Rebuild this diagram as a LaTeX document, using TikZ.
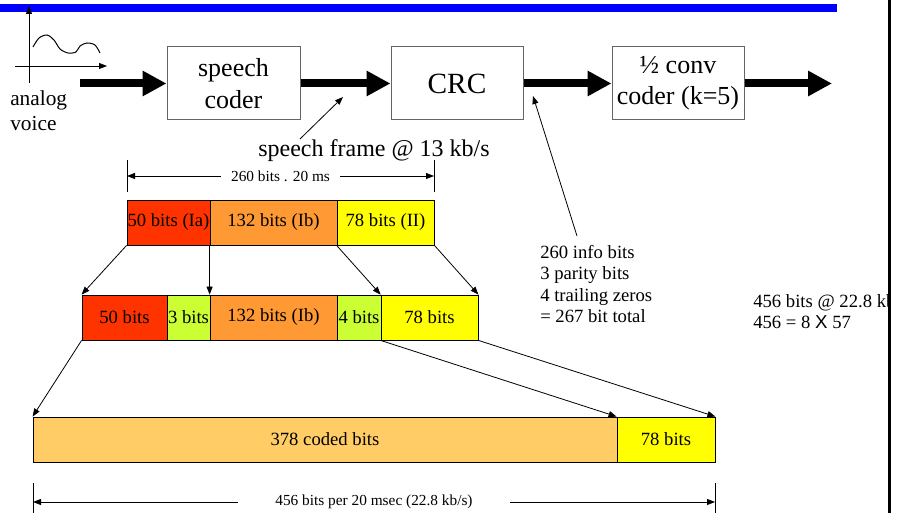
\documentclass[tikz,border=0pt]{standalone}
\usepackage{fontspec}
\setmainfont{Liberation Serif}
\newfontfamily\slideSerif{Liberation Serif}
\newfontfamily\sansX{Liberation Sans}
\usetikzlibrary{arrows.meta}
\definecolor{barblue}{RGB}{0,0,255}
\definecolor{bitsred}{RGB}{255,51,0}
\definecolor{bitsorange}{RGB}{255,153,51}
\definecolor{bitsyellow}{RGB}{255,255,0}
\definecolor{bitslime}{RGB}{204,255,51}
\definecolor{bitscoded}{RGB}{255,204,102}
\definecolor{boxgray}{RGB}{100,100,100}
\tikzstyle{procBox} = [
 rectangle,
 draw=boxgray,
 line width=0.75pt,
 minimum height=54.75pt,
 inner sep=0pt,
 align = center,
 font=\slideSerif\fontsize{19.5}{23.5}\selectfont
]
\tikzstyle{bitField} = [
 rectangle,
 draw=black,
 line width=0.6pt,
 minimum height=33.75pt,
 inner sep=0pt,
 font=\slideSerif\fontsize{14}{16}\selectfont
]
\tikzstyle{bigFlow} = [
 line width=6pt,
 -{Triangle[length=18pt,width=18pt]}
]
\tikzstyle{thinArrow} = [
 line width=0.6pt,
 -{Triangle[length=6pt,width=4.5pt]}
]
\tikzstyle{dimArrow} = [
 line width=0.6pt,
 {Triangle[length=6pt,width=4.5pt]}-{Triangle[length=6pt,width=4.5pt]}
]
\tikzstyle{bigLbl} = [font=\slideSerif\fontsize{18}{21.6}\selectfont]
\tikzstyle{midLbl} = [font=\slideSerif\fontsize{14}{16}\selectfont, align=left, inner sep=0pt]
\tikzstyle{smallLbl} = [font=\slideSerif\fontsize{11.5}{13}\selectfont, fill=white]

\begin{document}
\begin{tikzpicture}[x=0.75pt, y=-0.75pt]
  \useasboundingbox (0,0) rectangle (897,513);
  % slide bar and right edge
  \fill[barblue] (0,4) rectangle (837,12);
  \draw[line width=2.25pt] (889,0) -- (889,513);

  % analog voice sketch
  \draw[thinArrow] (29,83) -- (29,6);
  \draw[thinArrow] (15,66) -- (107,66);
  \draw[line width=0.75pt] plot[smooth] coordinates
    {(33,47) (39,38) (47,35) (54,40) (60,49) (68,53) (76,52) (80,46) (87,43) (95,45) (100,53)};
  \node[midLbl, font=\slideSerif\fontsize{16}{19}\selectfont, anchor=west] (voiceLbl) at (10,111) {analog\\voice};

  % coder chain
  \coordinate (voiceIn) at (80,83.5);
  \node[procBox, minimum width=99.75pt] (coder) at (233.5,83.5) {speech\\coder};
  \node[procBox, minimum width=99pt, font=\slideSerif\fontsize{22}{26}\selectfont] (crc) at (457,83.5) {CRC};
  \node[procBox, minimum width=99pt] (conv) at (678,83.5) {½ conv\\coder (k=5)};
  \coordinate (chainOut) at (832,83.5);
  \draw[bigFlow] (voiceIn) -- (coder);
  \draw[bigFlow] (coder) -- (crc);
  \draw[bigFlow] (crc) -- (conv);
  \draw[bigFlow] (conv) -- (chainOut);

  \node[bigLbl] (frameLbl) at (374,151) {speech frame @ 13 kb/s};
  \coordinate (frameFoot) at (300,139);
  \coordinate (frameTip) at (343,97);
  \draw[thinArrow] (frameFoot) -- (frameTip);

  \node[midLbl, anchor=north west] (crcInfo) at (540,245)
    {260 info bits\\3 parity bits\\4 trailing zeros\\= 267 bit total};
  \coordinate (infoFoot) at (577,236);
  \coordinate (infoTip) at (533,96);
  \draw[thinArrow] (infoFoot) -- (infoTip);

  \begin{scope}
    \clip (700,280) rectangle (887.5,340);
    \node[midLbl, anchor=north west] (rateLbl) at (753,294)
      {456 bits @ 22.8 kb\\456 = 8 {\sansX X} 57};
  \end{scope}

  % 260 bit frame
  \draw[line width=0.6pt] (127,160) -- (127,192);
  \draw[line width=0.6pt] (434,160) -- (434,192);
  \coordinate (spanL) at (127,176);
  \coordinate (spanR) at (434,176);
  \draw[dimArrow] (spanL) -- (spanR)
    node[midway, smallLbl, inner xsep=7.5pt] (spanLbl) {260 bits . 20 ms};

  \node[bitField, fill=bitsred, minimum width=62.25pt] (ia) at (168.5,222.5) {50 bits (Ia)};
  \node[bitField, fill=bitsorange, minimum width=95.25pt] (ib) at (273.5,222.5) {132 bits (Ib)};
  \node[bitField, fill=bitsyellow, minimum width=72.75pt] (ic) at (385.5,222.5) {78 bits (II)};

  % after CRC and tail
  \node[bitField, fill=bitsred, minimum width=63.75pt] (pa) at (124.5,317.5) {50 bits};
  \node[bitField, fill=bitslime, minimum width=32.25pt] (par) at (188.5,317.5) {3 bits};
  \node[bitField, fill=bitsorange, minimum width=95.25pt] (pb) at (273.5,317.5) {132 bits (Ib)};
  \node[bitField, fill=bitslime, minimum width=33pt] (tail) at (359,317.5) {4 bits};
  \node[bitField, fill=bitsyellow, minimum width=72.75pt] (pc) at (429.5,317.5) {78 bits};

  \draw[thinArrow] (ia.south west) -- (pa.north west);
  \draw[thinArrow] (ib.south west) -- (pb.north west);
  \draw[thinArrow] (ic.south west) -- (pc.north west);
  \draw[thinArrow] (ic.south east) -- (pc.north east);

  % coded block
  \node[bitField, fill=bitscoded, minimum width=438pt] (coded) at (325,439.5) {378 coded bits};
  \node[bitField, fill=bitsyellow, minimum width=73.5pt] (plain) at (666,439.5) {78 bits};

  \draw[thinArrow] (pa.south west) -- (coded.north west);
  \draw[thinArrow] (pc.south west) -- (plain.north west);
  \draw[thinArrow] (pc.south east) -- (plain.north east);

  \draw[line width=0.6pt] (33,483) -- (33,513);
  \draw[line width=0.6pt] (715,483) -- (715,513);
  \coordinate (totL) at (33,502);
  \coordinate (totR) at (715,502);
  \draw[dimArrow] (totL) -- (totR)
    node[midway, smallLbl, inner xsep=28pt] (totLbl) {456 bits per 20 msec (22.8 kb/s)};
\end{tikzpicture}
\end{document}
